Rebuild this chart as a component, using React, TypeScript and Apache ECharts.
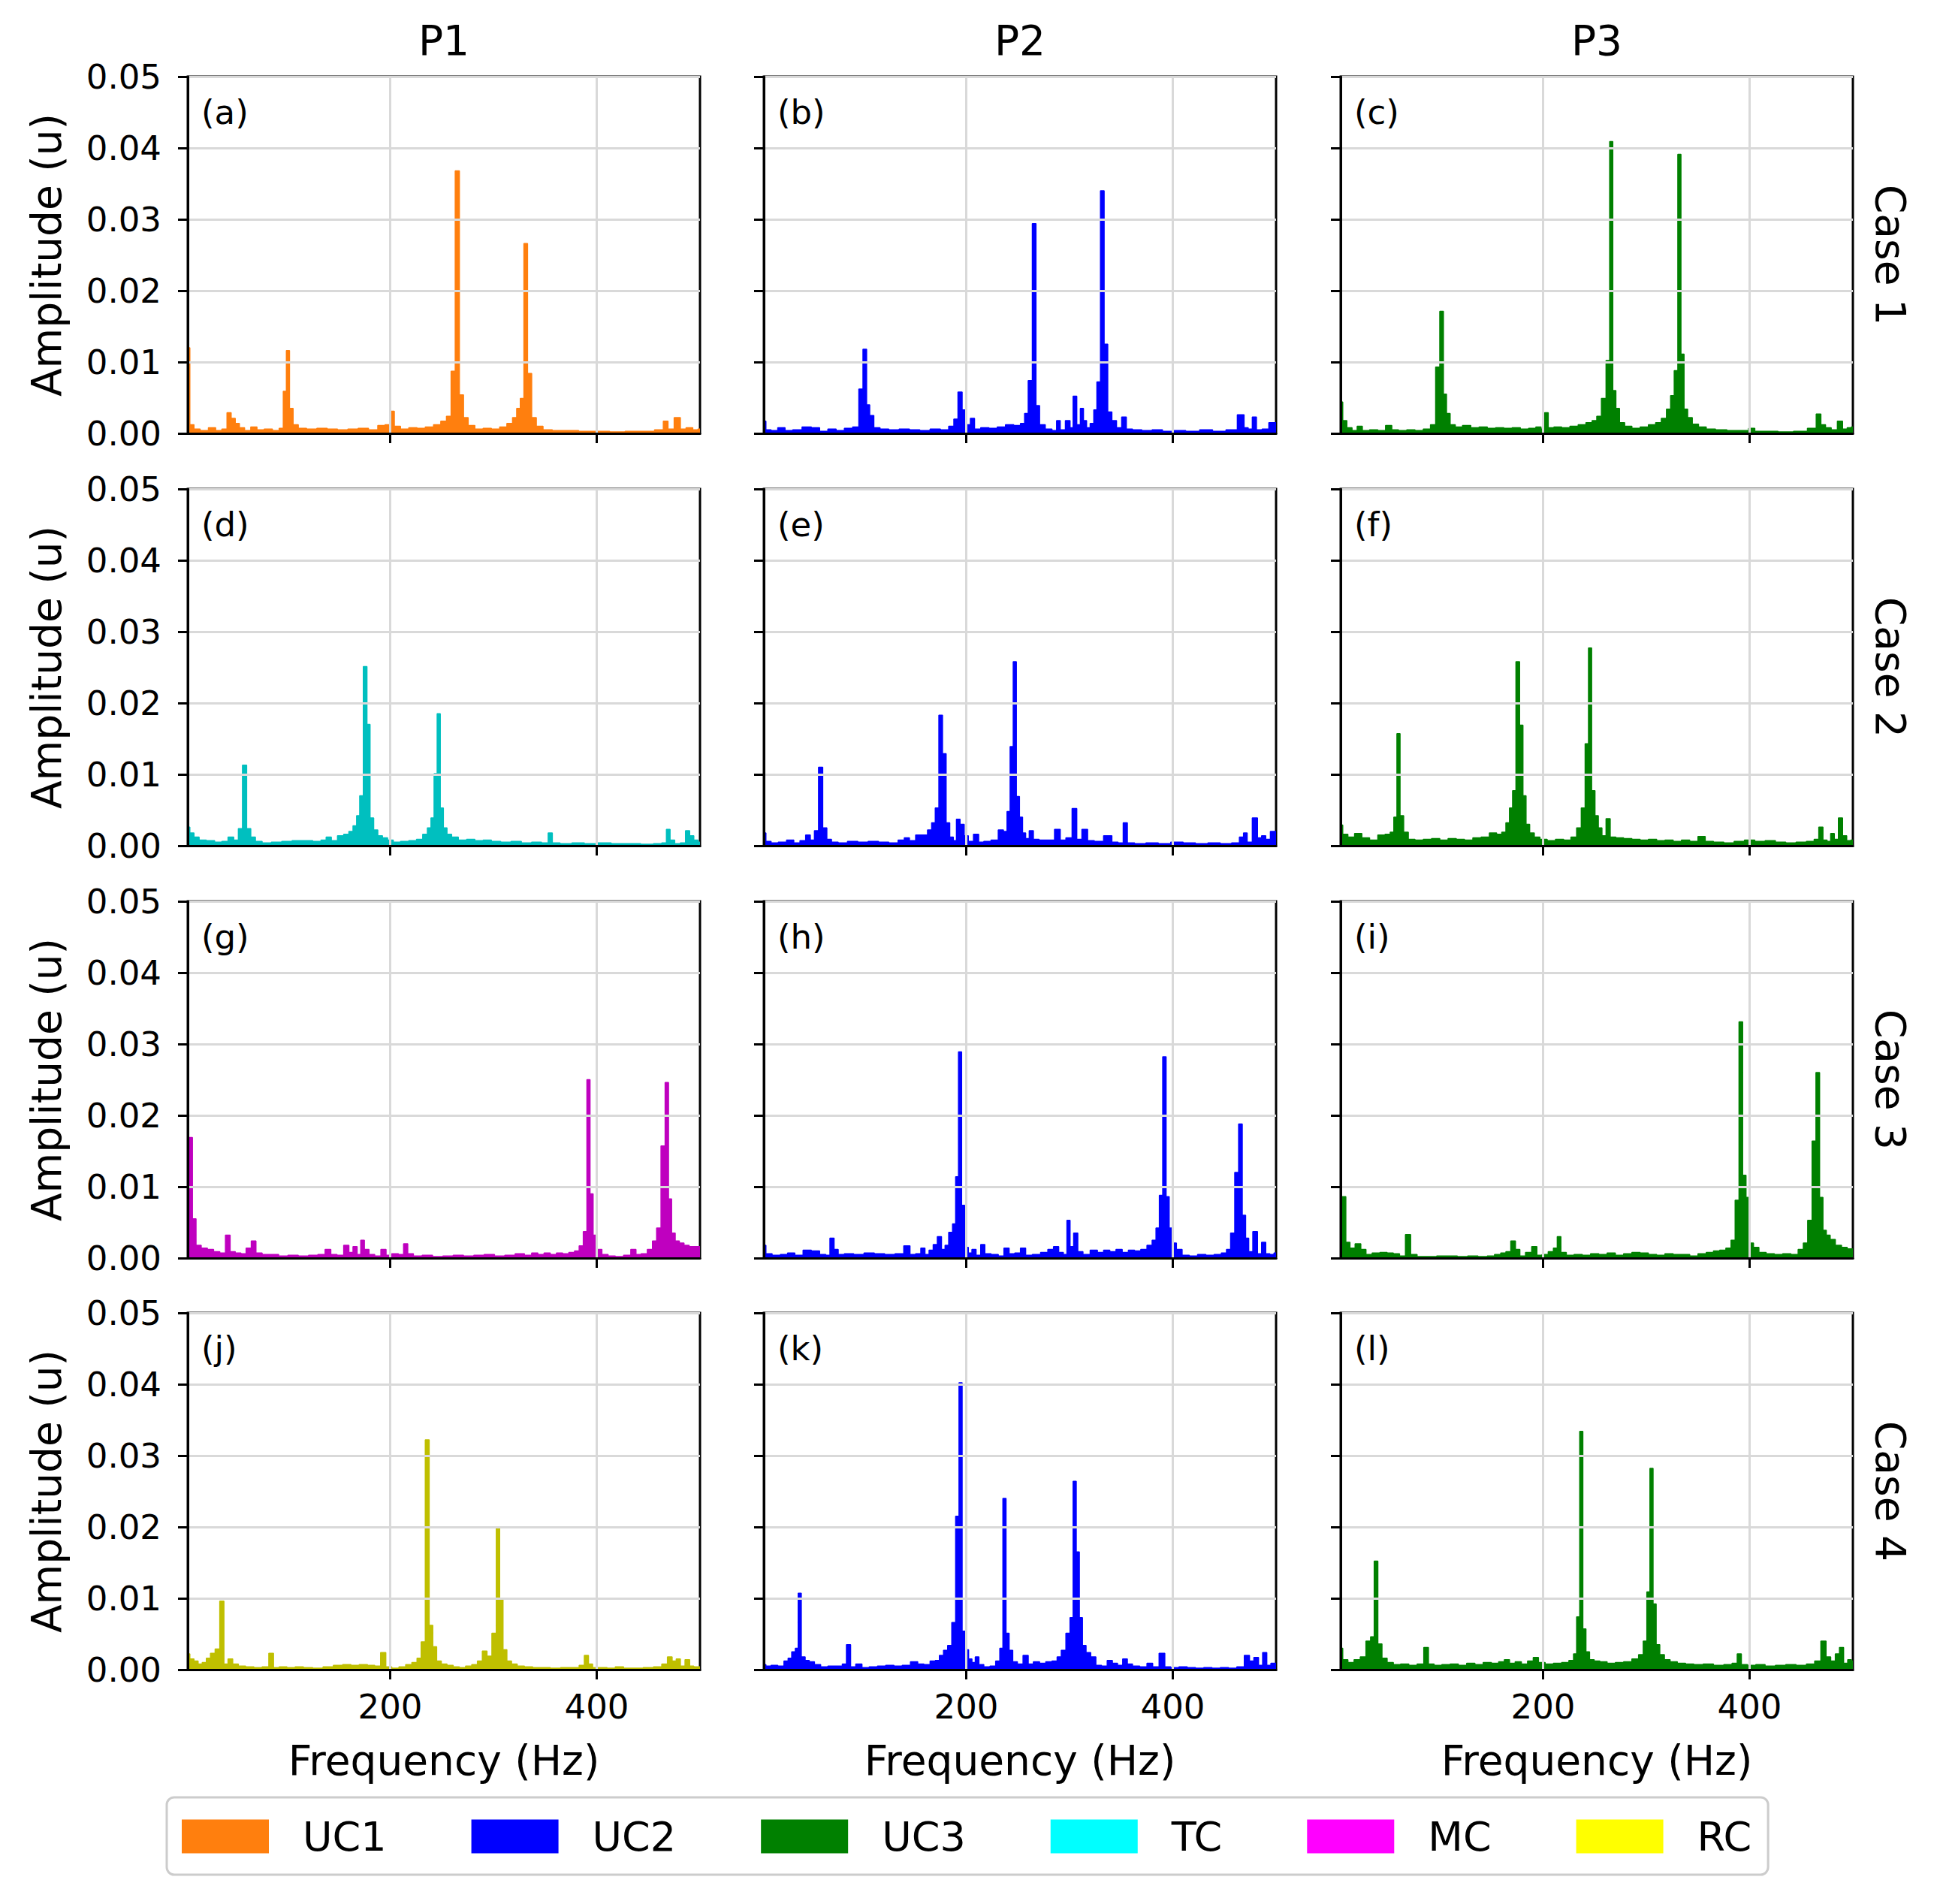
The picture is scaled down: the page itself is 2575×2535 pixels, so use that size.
import { useEffect, useRef } from 'react'
import * as echarts from 'echarts'

// column / row headings
const columnTitles = ['P1', 'P2', 'P3']
const caseLabels = ['Case 1', 'Case 2', 'Case 3', 'Case 4']
const panelLetters = ['(a)', '(b)', '(c)', '(d)', '(e)', '(f)', '(g)', '(h)', '(i)', '(j)', '(k)', '(l)']

// legend entries and their swatch colours
const methodNames = ['UC1', 'UC2', 'UC3', 'TC', 'MC', 'RC']
const legendColors = ['#ff7f0e', '#0000ff', '#008000', '#00ffff', '#ff00ff', '#ffff00']
// colour used for the filled spectrum of each method
const fillColors: Record<string, string> = {
  UC1: '#ff7f0e',
  UC2: '#0000ff',
  UC3: '#008000',
  TC: '#00bfbf',
  MC: '#bf00bf',
  RC: '#bfbf00'
}
// which method is drawn in each panel (row by row)
const panelMethods = ['UC1', 'UC2', 'UC3', 'TC', 'UC2', 'UC3', 'MC', 'UC2', 'UC3', 'RC', 'UC2', 'UC3']

const xTicks = [200, 400]

// spectra: [frequency (Hz), amplitude (u)]
const spectrumA = [
  [4, 0.012], [8, 0.0012], [12, 0.0006], [20, 0.0004], [28, 0.0008], [34, 0.0004], [40, 0.0006], [44, 0.0029],
  [48, 0.0021], [52, 0.0014], [56, 0.0008], [62, 0.0004], [68, 0.0009], [74, 0.0005], [82, 0.0006], [90, 0.0004],
  [95, 0.0007], [98, 0.0059], [101, 0.0116], [104, 0.0035], [108, 0.0012], [114, 0.0007], [124, 0.0006], [134, 0.0007],
  [144, 0.0006], [154, 0.0005], [164, 0.0006], [174, 0.0007], [184, 0.0005], [192, 0.0011], [198, 0.0012], [202, 0.0031],
  [206, 0.001], [214, 0.0006], [222, 0.0008], [230, 0.0007], [238, 0.0009], [246, 0.0012], [252, 0.0017], [257, 0.0024],
  [261, 0.0087], [265, 0.0368], [269, 0.0054], [273, 0.0022], [278, 0.0011], [286, 0.0006], [294, 0.0007], [302, 0.0006],
  [310, 0.0009], [316, 0.0014], [321, 0.0022], [324, 0.0035], [328, 0.0049], [331, 0.0266], [335, 0.0084], [339, 0.0022],
  [344, 0.001], [352, 0.0005], [362, 0.0004], [375, 0.0004], [390, 0.0003], [405, 0.0003], [420, 0.0002], [435, 0.0003],
  [450, 0.0003], [462, 0.0005], [467, 0.0017], [471, 0.0006], [479, 0.0022], [483, 0.0006], [490, 0.0008], [496, 0.0005],
  [500, 0.0006]
]
const spectrumB = [
  [4, 0.0017], [8, 0.0005], [14, 0.0004], [21, 0.0008], [28, 0.0004], [36, 0.0005], [46, 0.0009], [54, 0.0008],
  [62, 0.0003], [70, 0.0006], [78, 0.0004], [86, 0.0007], [94, 0.0009], [98, 0.0062], [102, 0.0118], [105, 0.004],
  [108, 0.0025], [113, 0.0008], [120, 0.0006], [130, 0.0005], [140, 0.0006], [150, 0.0005], [160, 0.0004], [170, 0.0006],
  [180, 0.0005], [186, 0.001], [190, 0.002], [194, 0.0058], [198, 0.0033], [202, 0.0012], [206, 0.0021], [210, 0.0006],
  [218, 0.0008], [226, 0.0007], [234, 0.0009], [242, 0.0012], [250, 0.0011], [255, 0.0014], [258, 0.0028], [262, 0.0074],
  [266, 0.0294], [269, 0.0039], [273, 0.0012], [280, 0.0006], [286, 0.0004], [289, 0.0018], [293, 0.0005], [299, 0.0018],
  [302, 0.0008], [305, 0.0052], [309, 0.0012], [312, 0.0035], [315, 0.0018], [318, 0.0008], [322, 0.0014], [325, 0.0033],
  [328, 0.0072], [332, 0.034], [335, 0.0125], [339, 0.003], [343, 0.0018], [348, 0.0008], [353, 0.0023], [357, 0.0006],
  [365, 0.0005], [375, 0.0004], [385, 0.0005], [395, 0.0003], [405, 0.0004], [420, 0.0003], [432, 0.0005], [445, 0.0003],
  [458, 0.0005], [467, 0.0026], [471, 0.0008], [475, 0.0006], [479, 0.0023], [483, 0.0005], [490, 0.0006], [496, 0.0015],
  [500, 0.0015]
]
const spectrumC = [
  [4, 0.0044], [8, 0.0018], [12, 0.0008], [18, 0.0004], [22, 0.001], [28, 0.0004], [36, 0.0005], [44, 0.0004],
  [51, 0.0011], [56, 0.0005], [64, 0.0004], [72, 0.0005], [80, 0.0004], [88, 0.0006], [94, 0.0012], [98, 0.0093],
  [102, 0.0171], [105, 0.0055], [108, 0.0028], [112, 0.0012], [118, 0.0009], [126, 0.0011], [134, 0.0008], [142, 0.0009],
  [150, 0.0007], [158, 0.0008], [166, 0.0007], [174, 0.0008], [182, 0.0006], [190, 0.0007], [196, 0.0009], [200, 0.0006],
  [203, 0.0029], [207, 0.0008], [214, 0.0009], [222, 0.0008], [230, 0.001], [238, 0.0012], [245, 0.0015], [250, 0.0018],
  [254, 0.0024], [259, 0.0049], [263, 0.0102], [266, 0.0409], [269, 0.006], [272, 0.0035], [276, 0.0015], [282, 0.001],
  [290, 0.0007], [298, 0.0009], [306, 0.0012], [312, 0.0015], [317, 0.0021], [322, 0.0034], [325, 0.0053], [329, 0.0088],
  [332, 0.0391], [335, 0.0111], [338, 0.0034], [342, 0.0022], [347, 0.0013], [354, 0.0009], [362, 0.0006], [372, 0.0005],
  [384, 0.0004], [396, 0.0004], [402, 0.0007], [408, 0.0003], [420, 0.0003], [435, 0.0002], [450, 0.0003], [462, 0.0007],
  [467, 0.0027], [471, 0.0012], [476, 0.0008], [482, 0.0005], [488, 0.0017], [492, 0.0006], [497, 0.0008], [500, 0.0009]
]
const spectrumD = [
  [4, 0.0026], [8, 0.0018], [12, 0.0012], [18, 0.0008], [26, 0.0007], [34, 0.0005], [40, 0.0006], [46, 0.0012],
  [51, 0.0008], [55, 0.0024], [59, 0.0113], [63, 0.0024], [67, 0.0012], [72, 0.0006], [80, 0.0004], [90, 0.0005],
  [100, 0.0006], [110, 0.0007], [120, 0.0007], [130, 0.0006], [136, 0.0008], [140, 0.0012], [146, 0.0007], [152, 0.0014],
  [158, 0.0016], [162, 0.002], [166, 0.0028], [169, 0.0042], [172, 0.007], [176, 0.0251], [179, 0.017], [182, 0.0039],
  [186, 0.0022], [190, 0.0014], [195, 0.0011], [200, 0.0008], [206, 0.0005], [214, 0.0006], [222, 0.0007], [229, 0.0009],
  [234, 0.0016], [238, 0.0025], [241, 0.0039], [244, 0.0101], [247, 0.0185], [250, 0.0053], [253, 0.0025], [257, 0.0016],
  [262, 0.0012], [270, 0.0008], [278, 0.0009], [286, 0.0007], [294, 0.0008], [302, 0.0006], [312, 0.0005], [322, 0.0006],
  [332, 0.0004], [342, 0.0005], [351, 0.0004], [355, 0.0018], [359, 0.0004], [370, 0.0003], [382, 0.0004], [394, 0.0003],
  [408, 0.0004], [420, 0.0003], [435, 0.0003], [450, 0.0002], [460, 0.0003], [466, 0.0004], [469, 0.0023], [473, 0.0008],
  [478, 0.0003], [484, 0.0004], [488, 0.0021], [492, 0.0014], [496, 0.0008], [500, 0.0005]
]
const spectrumE = [
  [4, 0.0018], [8, 0.0006], [14, 0.0004], [22, 0.0005], [30, 0.0008], [36, 0.0004], [42, 0.0007], [47, 0.0015],
  [51, 0.0008], [55, 0.0021], [59, 0.011], [63, 0.0025], [67, 0.0009], [72, 0.0005], [80, 0.0004], [90, 0.0006],
  [100, 0.0005], [110, 0.0006], [120, 0.0005], [130, 0.0004], [138, 0.0008], [142, 0.0011], [148, 0.0007], [154, 0.0015],
  [160, 0.0015], [165, 0.0022], [168, 0.0032], [172, 0.0053], [175, 0.0183], [179, 0.0129], [182, 0.0032], [186, 0.0012],
  [189, 0.0007], [192, 0.0037], [196, 0.003], [200, 0.0014], [204, 0.0006], [210, 0.0016], [214, 0.0005], [220, 0.0006],
  [228, 0.0008], [234, 0.0022], [238, 0.002], [241, 0.0048], [244, 0.0139], [247, 0.0258], [250, 0.0069], [253, 0.004],
  [256, 0.0018], [259, 0.001], [263, 0.0021], [267, 0.0009], [274, 0.0008], [282, 0.0008], [289, 0.0023], [293, 0.0008],
  [300, 0.0011], [305, 0.0052], [309, 0.0009], [315, 0.0023], [320, 0.0007], [328, 0.0006], [338, 0.0014], [344, 0.0005],
  [350, 0.0004], [354, 0.0032], [358, 0.0004], [368, 0.0003], [380, 0.0004], [392, 0.0003], [404, 0.0005], [416, 0.0004],
  [428, 0.0003], [440, 0.0004], [452, 0.0003], [462, 0.0004], [467, 0.0012], [470, 0.0018], [474, 0.0005], [480, 0.0039],
  [484, 0.0011], [488, 0.0014], [492, 0.0009], [497, 0.002], [500, 0.002]
]
const spectrumF = [
  [4, 0.0029], [8, 0.0016], [14, 0.0012], [21, 0.0017], [28, 0.0011], [36, 0.0008], [44, 0.0015], [50, 0.0016],
  [54, 0.0019], [57, 0.004], [60, 0.0157], [63, 0.0042], [67, 0.0019], [72, 0.0009], [80, 0.0008], [88, 0.0009],
  [96, 0.001], [104, 0.0008], [112, 0.001], [120, 0.0009], [128, 0.0008], [136, 0.0011], [144, 0.0012], [152, 0.0018],
  [158, 0.0016], [162, 0.0019], [166, 0.0032], [169, 0.0053], [172, 0.0077], [175.5, 0.0258], [179, 0.0169], [182, 0.007],
  [185, 0.003], [189, 0.0018], [194, 0.0012], [200, 0.0009], [208, 0.0007], [216, 0.0009], [224, 0.0008], [230, 0.0012],
  [235, 0.0025], [239, 0.0053], [242.5, 0.0143], [245.5, 0.0277], [248.5, 0.0077], [252, 0.0042], [255, 0.0025], [259, 0.0014],
  [263, 0.0038], [267, 0.0012], [274, 0.0011], [282, 0.001], [290, 0.0009], [298, 0.0008], [306, 0.0009], [314, 0.0007],
  [322, 0.0008], [330, 0.0006], [338, 0.0008], [346, 0.0006], [354, 0.0013], [360, 0.0006], [370, 0.0005], [380, 0.0004],
  [390, 0.0006], [400, 0.0008], [410, 0.0006], [420, 0.0007], [430, 0.0005], [440, 0.0004], [450, 0.0005], [460, 0.0006],
  [465, 0.0009], [469, 0.0026], [473, 0.0008], [477, 0.0006], [480, 0.0017], [484, 0.0009], [488, 0.0039], [492, 0.0014],
  [496, 0.0007], [500, 0.0008]
]
const spectrumG = [
  [4, 0.0169], [7, 0.0169], [10, 0.0055], [14, 0.0018], [20, 0.0014], [26, 0.0012], [32, 0.0009], [38, 0.0007],
  [43, 0.0032], [47, 0.0009], [53, 0.0007], [58, 0.0006], [63, 0.0014], [68, 0.0024], [72, 0.0007], [80, 0.0005],
  [88, 0.0005], [96, 0.0003], [106, 0.0004], [116, 0.0003], [126, 0.0004], [134, 0.0005], [140, 0.0012], [145, 0.0005],
  [152, 0.0004], [158, 0.0018], [162, 0.0008], [166, 0.0016], [170, 0.0005], [173, 0.0025], [177, 0.0012], [182, 0.0005],
  [188, 0.0003], [194, 0.0012], [198, 0.0004], [205, 0.0006], [211, 0.0005], [215, 0.002], [219, 0.0006], [226, 0.0003],
  [236, 0.0004], [246, 0.0002], [256, 0.0003], [266, 0.0004], [276, 0.0003], [286, 0.0004], [296, 0.0005], [306, 0.0003],
  [316, 0.0004], [326, 0.0006], [334, 0.0004], [340, 0.0007], [346, 0.0005], [352, 0.0007], [358, 0.0005], [364, 0.0007],
  [370, 0.0006], [376, 0.0008], [381, 0.001], [385, 0.0017], [389, 0.0037], [392, 0.025], [395, 0.009], [398, 0.0032],
  [402, 0.0012], [408, 0.0005], [414, 0.0003], [422, 0.0002], [430, 0.0004], [436, 0.0012], [440, 0.0005], [446, 0.0006],
  [452, 0.0012], [456, 0.0024], [460, 0.0042], [464.5, 0.0157], [468, 0.0246], [471, 0.0083], [474, 0.0035], [478, 0.0024],
  [482, 0.0021], [487, 0.0018], [492, 0.0016], [497, 0.0016], [500, 0.0016]
]
const spectrumH = [
  [4, 0.0018], [8, 0.0006], [16, 0.0004], [24, 0.0005], [30, 0.0007], [38, 0.0004], [46, 0.0011], [54, 0.001],
  [62, 0.0005], [66, 0.0004], [70, 0.0028], [74, 0.0012], [78, 0.0005], [86, 0.0006], [96, 0.0005], [106, 0.0007],
  [116, 0.0006], [126, 0.0005], [136, 0.0006], [143, 0.0017], [148, 0.0005], [154, 0.0006], [158, 0.0014], [162, 0.0005],
  [166, 0.0011], [170, 0.0019], [174, 0.003], [178, 0.0012], [181, 0.0018], [185, 0.0036], [188.5, 0.0048], [191, 0.0114],
  [194, 0.0289], [197, 0.0074], [200, 0.0015], [204, 0.0007], [207, 0.0012], [212, 0.0004], [216, 0.0019], [220, 0.0006],
  [228, 0.0005], [234, 0.0003], [239, 0.0014], [244, 0.0006], [250, 0.0007], [255, 0.0014], [260, 0.0004], [268, 0.0005],
  [276, 0.0008], [282, 0.0012], [287, 0.0016], [292, 0.0008], [296, 0.0005], [299, 0.0053], [302, 0.0016], [306, 0.0035],
  [310, 0.0009], [316, 0.0005], [324, 0.0011], [330, 0.0008], [336, 0.0011], [342, 0.0009], [348, 0.0012], [354, 0.0008],
  [360, 0.0011], [366, 0.001], [372, 0.0012], [378, 0.0018], [382, 0.0025], [385.5, 0.0042], [388.5, 0.0088], [392, 0.0282],
  [395, 0.0086], [398, 0.0042], [401, 0.0021], [406, 0.0012], [412, 0.0004], [420, 0.0003], [428, 0.0005], [436, 0.0004],
  [444, 0.0005], [450, 0.0007], [454, 0.0012], [458, 0.0035], [462, 0.012], [465.5, 0.0188], [469, 0.006], [472, 0.0028],
  [475, 0.0009], [480, 0.0037], [484, 0.0006], [488, 0.0022], [492, 0.0006], [496, 0.0005], [500, 0.0007]
]
const spectrumI = [
  [4, 0.0086], [7, 0.0086], [11, 0.0022], [15, 0.0014], [21, 0.002], [26, 0.0012], [31, 0.0005], [38, 0.0007],
  [46, 0.0008], [52, 0.0007], [58, 0.0006], [64, 0.0003], [69.5, 0.0033], [74, 0.0005], [82, 0.0002], [92, 0.0002],
  [102, 0.0003], [112, 0.0003], [122, 0.0002], [132, 0.0003], [142, 0.0002], [150, 0.0003], [156, 0.0005], [162, 0.0007],
  [166, 0.0009], [171.5, 0.0024], [175, 0.0012], [180, 0.0003], [186, 0.0008], [192, 0.0016], [196, 0.0004], [202, 0.0005],
  [208, 0.0009], [212, 0.0014], [215.5, 0.003], [219, 0.0008], [226, 0.0004], [234, 0.0005], [242, 0.0004], [250, 0.0006],
  [258, 0.0005], [266, 0.0007], [274, 0.0004], [282, 0.0006], [290, 0.0008], [298, 0.0007], [306, 0.0005], [314, 0.0004],
  [322, 0.0006], [330, 0.0005], [338, 0.0005], [346, 0.0003], [354, 0.0006], [362, 0.0008], [368, 0.001], [374, 0.0011],
  [380, 0.0014], [384, 0.0025], [388, 0.0081], [391.5, 0.0331], [395, 0.0116], [398, 0.0085], [401.5, 0.0021], [406, 0.0015],
  [412, 0.0008], [420, 0.0006], [428, 0.0005], [436, 0.0006], [444, 0.0005], [450, 0.0012], [454, 0.0021], [458.5, 0.0053],
  [462.5, 0.0164], [466, 0.026], [469.5, 0.0085], [472.5, 0.0039], [476, 0.0032], [480, 0.0026], [486, 0.0018], [492, 0.0015],
  [497, 0.0013], [500, 0.0013]
]
const spectrumJ = [
  [4, 0.0022], [8, 0.0015], [12, 0.0012], [16, 0.0008], [20, 0.001], [24, 0.0016], [28, 0.0023], [33, 0.0029],
  [37, 0.0096], [41, 0.0008], [45, 0.0015], [50, 0.0008], [56, 0.0005], [64, 0.0004], [72, 0.0003], [80, 0.0004],
  [85, 0.0023], [89, 0.0003], [96, 0.0004], [104, 0.0003], [112, 0.0004], [120, 0.0003], [130, 0.0002], [140, 0.0004],
  [150, 0.0006], [158, 0.0007], [166, 0.0006], [174, 0.0007], [182, 0.0006], [188, 0.0005], [193.5, 0.0024], [198, 0.0004],
  [205, 0.0002], [212, 0.0004], [218, 0.0007], [224, 0.001], [228, 0.0016], [232, 0.0039], [236, 0.0322], [239.5, 0.0062],
  [243, 0.0032], [247, 0.0012], [252, 0.0008], [258, 0.0006], [264, 0.0004], [270, 0.0003], [276, 0.0005], [282, 0.0007],
  [287, 0.0012], [291.5, 0.0026], [296, 0.0019], [301, 0.0051], [304.5, 0.02], [307.5, 0.0099], [311, 0.0028], [315, 0.0012],
  [320, 0.0008], [326, 0.0005], [334, 0.0004], [342, 0.0003], [350, 0.0003], [360, 0.0002], [370, 0.0003], [380, 0.0003],
  [386, 0.0006], [390, 0.002], [394, 0.0008], [398, 0.0003], [406, 0.0003], [414, 0.0002], [422, 0.0004], [430, 0.0002],
  [440, 0.0002], [450, 0.0003], [460, 0.0004], [466, 0.0008], [471, 0.0018], [475, 0.0012], [479, 0.0015], [483, 0.0005],
  [488, 0.0014], [492, 0.0005], [496, 0.0004], [500, 0.0004]
]
const spectrumK = [
  [4, 0.0007], [8, 0.0005], [14, 0.0006], [21, 0.0005], [26, 0.0012], [29, 0.0016], [33, 0.0025], [36, 0.003],
  [38.5, 0.0107], [42, 0.0018], [46, 0.0013], [50, 0.0011], [56, 0.0007], [62, 0.0004], [70, 0.0005], [78, 0.0005],
  [82, 0.0008], [86, 0.0035], [90, 0.0004], [96, 0.0008], [102, 0.0003], [110, 0.0004], [118, 0.0005], [126, 0.0006],
  [134, 0.0005], [142, 0.0006], [150, 0.0011], [156, 0.0008], [162, 0.0007], [168, 0.0012], [172, 0.0013], [176, 0.002],
  [180, 0.0027], [184, 0.0034], [188, 0.0066], [191.5, 0.0215], [194.5, 0.0402], [197.5, 0.0054], [200.5, 0.0028], [204, 0.0015],
  [207, 0.001], [210.5, 0.0018], [214, 0.0007], [220, 0.0004], [226, 0.0005], [231, 0.0012], [234, 0.003], [237, 0.024],
  [240, 0.0051], [243, 0.0027], [247, 0.0011], [252, 0.0008], [258, 0.002], [262, 0.0008], [268, 0.0011], [274, 0.0009],
  [280, 0.0011], [286, 0.0012], [290, 0.0018], [294, 0.0027], [299, 0.0051], [302, 0.0073], [305, 0.0264], [308, 0.0165],
  [311, 0.0073], [314, 0.0034], [318, 0.0024], [323, 0.0018], [328, 0.0006], [334, 0.0005], [339, 0.0013], [344, 0.0009],
  [349, 0.0006], [354, 0.0015], [358, 0.0008], [364, 0.0005], [372, 0.0004], [378, 0.0009], [383, 0.0004], [390.5, 0.0023],
  [394, 0.0004], [402, 0.0003], [410, 0.0004], [418, 0.0003], [426, 0.0002], [434, 0.0003], [442, 0.0002], [450, 0.0003],
  [458, 0.0002], [466, 0.0004], [472.5, 0.002], [476, 0.0012], [481, 0.0017], [485, 0.0006], [489, 0.0024], [493, 0.0006],
  [497, 0.0009], [500, 0.0009]
]
const spectrumL = [
  [4, 0.003], [8, 0.0014], [14, 0.001], [20, 0.0014], [26, 0.0018], [31, 0.004], [35, 0.0046], [38, 0.0152],
  [42, 0.0036], [46, 0.0016], [52, 0.001], [58, 0.0007], [66, 0.0008], [74, 0.0006], [82, 0.0008], [87, 0.0031],
  [91, 0.0008], [98, 0.0006], [106, 0.0007], [114, 0.0008], [122, 0.0006], [130, 0.0009], [138, 0.0007], [146, 0.001],
  [154, 0.0009], [160, 0.0011], [165, 0.0014], [170, 0.0009], [176, 0.0011], [182, 0.0008], [188, 0.0012], [193, 0.0017],
  [198, 0.001], [206, 0.0008], [214, 0.0009], [222, 0.001], [228, 0.0013], [231, 0.0022], [234, 0.0074], [237, 0.0334],
  [240, 0.0057], [243, 0.0025], [247, 0.0014], [252, 0.0012], [258, 0.0011], [266, 0.0009], [274, 0.001], [282, 0.0011],
  [290, 0.0015], [295, 0.0021], [299, 0.004], [302, 0.0109], [305, 0.0282], [308, 0.0092], [311, 0.0035], [315, 0.0021],
  [320, 0.0014], [326, 0.0011], [334, 0.0009], [342, 0.0008], [350, 0.0007], [360, 0.0008], [370, 0.0006], [380, 0.0007],
  [386, 0.0009], [390, 0.0022], [394, 0.0007], [402, 0.0006], [410, 0.0007], [420, 0.0005], [430, 0.0006], [440, 0.0007],
  [450, 0.0006], [460, 0.0008], [466, 0.0012], [472, 0.004], [476, 0.0018], [481, 0.0012], [485, 0.0022], [489, 0.0031],
  [493, 0.0009], [497, 0.0014], [500, 0.0012]
]

const panelSpectra = [
  spectrumA, spectrumB, spectrumC,
  spectrumD, spectrumE, spectrumF,
  spectrumG, spectrumH, spectrumI,
  spectrumJ, spectrumK, spectrumL
]

// page layout (px)
const gridLefts = [250, 1017, 1785]
const gridTops = [102, 651, 1200, 1748]
const gridW = 682
const gridH = 475
const FONT = 'DejaVu Sans'

function FrequencySpectra(): JSX.Element {
  const chartRef = useRef<HTMLDivElement>(null)

  useEffect(() => {
    const chart = echarts.init(chartRef.current, null, { renderer: 'svg' })

    const grids: any[] = []
    const xAxes: any[] = []
    const yAxes: any[] = []
    const series: any[] = []
    const graphics: any[] = []

    panelSpectra.forEach((spectrum, i) => {
      const row = Math.floor(i / 3)
      const col = i % 3
      const method = panelMethods[i]
      const color = fillColors[method]

      grids.push({
        left: gridLefts[col],
        top: gridTops[row],
        width: gridW,
        height: gridH,
        show: true,
        borderColor: '#000',
        borderWidth: 3,
        backgroundColor: 'transparent',
        outerBoundsMode: 'none'
      })
      xAxes.push({
        type: 'value',
        gridIndex: i,
        min: 4,
        max: 500,
        axisLine: { show: true, onZero: false, lineStyle: { color: '#000', width: 3 } },
        axisTick: { show: true, customValues: xTicks, length: 13, lineStyle: { color: '#000', width: 3 } },
        axisLabel: {
          show: row === 3,
          customValues: xTicks,
          fontSize: 45,
          margin: 27,
          color: '#000',
          fontFamily: FONT
        },
        splitLine: { show: true, lineStyle: { color: '#d9d9d9', width: 3 } },
        z: 3
      })
      yAxes.push({
        type: 'value',
        gridIndex: i,
        min: 0,
        max: 0.05,
        interval: 0.01,
        axisLine: { show: true, lineStyle: { color: '#000', width: 3 } },
        axisTick: { show: true, length: 13, lineStyle: { color: '#000', width: 3 } },
        axisLabel: {
          show: col === 0,
          formatter: (v: number) => v.toFixed(2),
          fontSize: 45,
          margin: 35,
          color: '#000',
          fontFamily: FONT
        },
        splitLine: { show: true, lineStyle: { color: '#d9d9d9', width: 3 } },
        z: 3
      })
      series.push({
        type: 'line',
        name: method,
        xAxisIndex: i,
        yAxisIndex: i,
        data: spectrum,
        step: 'middle',
        symbol: 'none',
        showSymbol: false,
        silent: true,
        lineStyle: { color, width: 1.5 },
        itemStyle: { color },
        areaStyle: { color, opacity: 1 },
        z: 2
      })
      graphics.push({
        type: 'text',
        x: gridLefts[col] + 18,
        y: gridTops[row] + 47,
        style: {
          text: panelLetters[i],
          fontSize: 45,
          fontFamily: FONT,
          fill: '#000',
          align: 'left',
          verticalAlign: 'middle'
        }
      })
    })

    columnTitles.forEach((t, c) => {
      graphics.push({
        type: 'text',
        x: gridLefts[c] + gridW / 2,
        y: 54,
        style: { text: t, fontSize: 55, fontFamily: FONT, fill: '#000', align: 'center', verticalAlign: 'middle' }
      })
      graphics.push({
        type: 'text',
        x: gridLefts[c] + gridW / 2,
        y: 2344,
        style: {
          text: 'Frequency (Hz)',
          fontSize: 55,
          fontFamily: FONT,
          fill: '#000',
          align: 'center',
          verticalAlign: 'middle'
        }
      })
    })

    caseLabels.forEach((t, r) => {
      const cy = gridTops[r] + gridH / 2
      graphics.push({
        type: 'text',
        x: 62,
        y: cy,
        rotation: Math.PI / 2,
        style: {
          text: 'Amplitude (u)',
          fontSize: 55,
          fontFamily: FONT,
          fill: '#000',
          align: 'center',
          verticalAlign: 'middle'
        }
      })
      graphics.push({
        type: 'text',
        x: 2517,
        y: cy,
        rotation: -Math.PI / 2,
        style: { text: t, fontSize: 55, fontFamily: FONT, fill: '#000', align: 'center', verticalAlign: 'middle' }
      })
    })

    const option: echarts.EChartsOption = {
      animation: false,
      backgroundColor: '#fff',
      textStyle: { fontFamily: FONT },
      grid: grids,
      xAxis: xAxes,
      yAxis: yAxes,
      series,
      legend: {
        data: methodNames.map((name, k) => ({
          name,
          itemStyle: { color: legendColors[k], borderWidth: 0 }
        })),
        icon: 'rect',
        selectedMode: false,
        left: 222,
        top: 2393,
        orient: 'horizontal',
        itemWidth: 116,
        itemHeight: 45,
        itemGap: 113,
        padding: [25, 22, 24, 20],
        borderColor: '#cccccc',
        borderWidth: 3,
        borderRadius: 10,
        textStyle: { fontSize: 54, color: '#000', fontFamily: FONT, padding: [0, 0, 0, 40] }
      },
      graphic: graphics
    } as any

    chart.setOption(option)

    return () => {
      chart.dispose()
    }
  }, [])

  return (
    <div
      ref={chartRef}
      style={{ position: 'fixed', left: 0, top: 0, width: '2575px', height: '2535px' }}
    ></div>
  )
}

export default FrequencySpectra
